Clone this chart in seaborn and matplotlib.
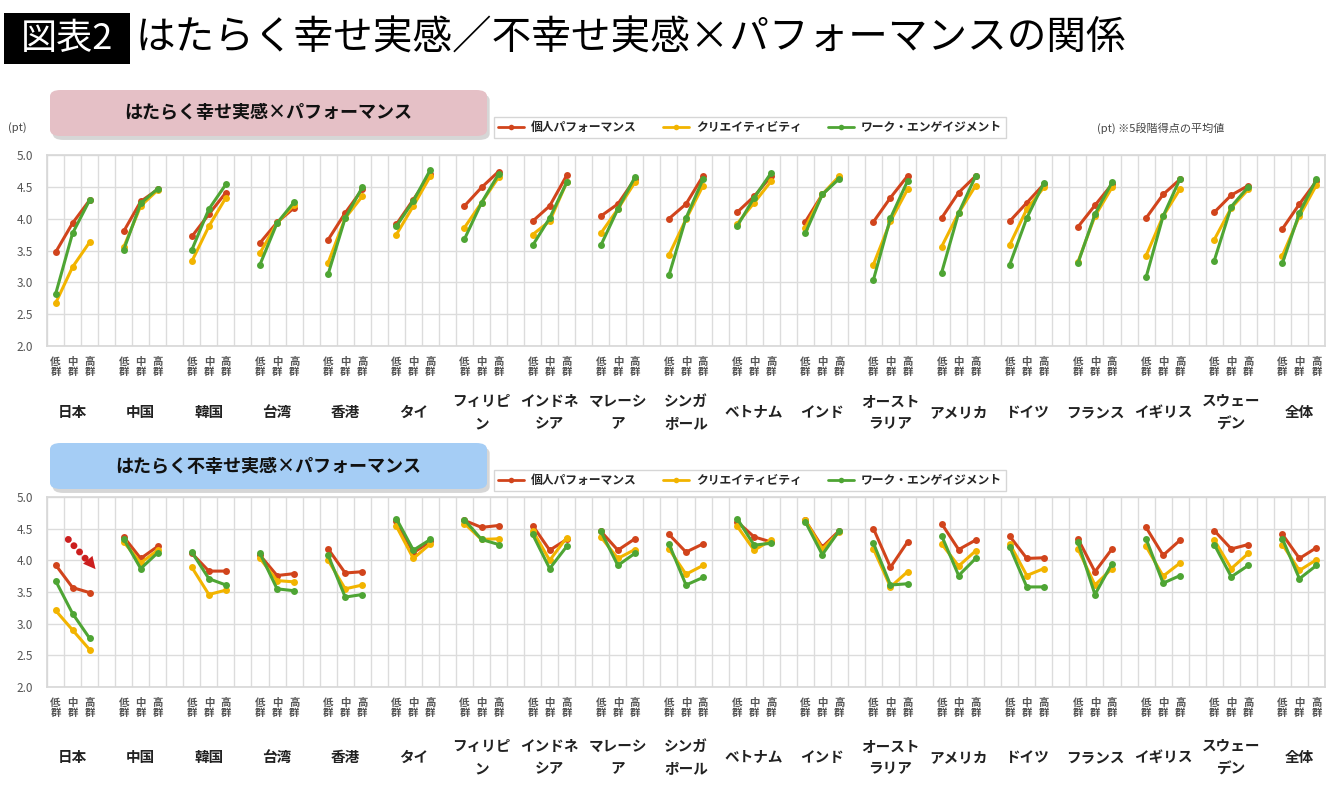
import numpy as np
import pandas as pd
import seaborn as sns
import matplotlib.pyplot as plt
from matplotlib.patches import FancyBboxPatch, Rectangle
from matplotlib.lines import Line2D

# Countries and groups
countries = ['日本', '中国', '韓国', '台湾', '香港', 'タイ', 'フィリピ\nン', 'インドネ\nシア',
             'マレーシ\nア', 'シンガ\nポール', 'ベトナム', 'インド', 'オースト\nラリア', 'アメリカ',
             'ドイツ', 'フランス', 'イギリス', 'スウェー\nデン', '全体']
groups = ['低\n群', '中\n群', '高\n群']
series_names = ['個人パフォーマンス', 'クリエイティビティ', 'ワーク・エンゲイジメント']

# はたらく幸せ実感 x パフォーマンス (low, mid, high)
happy_perf = [(3.47, 3.93, 4.29), (3.80, 4.27, 4.46), (3.72, 4.07, 4.41), (3.62, 3.94, 4.17),
              (3.67, 4.09, 4.46), (3.91, 4.30, 4.70), (4.20, 4.49, 4.74), (3.96, 4.20, 4.68),
              (4.04, 4.23, 4.62), (4.00, 4.23, 4.67), (4.10, 4.35, 4.67), (3.95, 4.38, 4.65),
              (3.95, 4.33, 4.67), (4.01, 4.41, 4.67), (3.96, 4.25, 4.54), (3.87, 4.21, 4.54),
              (4.01, 4.38, 4.62), (4.10, 4.37, 4.52), (3.84, 4.23, 4.59)]
happy_crea = [(2.67, 3.24, 3.63), (3.55, 4.20, 4.45), (3.33, 3.88, 4.33), (3.46, 3.93, 4.22),
              (3.31, 4.01, 4.35), (3.75, 4.20, 4.67), (3.86, 4.25, 4.65), (3.75, 3.96, 4.57),
              (3.77, 4.15, 4.57), (3.43, 3.99, 4.52), (3.92, 4.25, 4.59), (3.86, 4.38, 4.67),
              (3.28, 3.96, 4.46), (3.56, 4.09, 4.52), (3.59, 4.15, 4.49), (3.32, 4.04, 4.49),
              (3.42, 4.04, 4.47), (3.67, 4.17, 4.46), (3.42, 4.04, 4.53)]
happy_eng = [(2.81, 3.77, 4.29), (3.51, 4.24, 4.47), (3.51, 4.15, 4.54), (3.28, 3.93, 4.26),
             (3.13, 4.01, 4.49), (3.88, 4.28, 4.77), (3.68, 4.25, 4.70), (3.58, 4.01, 4.57),
             (3.58, 4.15, 4.65), (3.11, 4.01, 4.62), (3.88, 4.33, 4.72), (3.77, 4.38, 4.63),
             (3.04, 4.01, 4.59), (3.15, 4.09, 4.67), (3.28, 4.01, 4.56), (3.30, 4.07, 4.57),
             (3.08, 4.04, 4.63), (3.34, 4.19, 4.50), (3.30, 4.09, 4.62)]

# はたらく不幸せ実感 x パフォーマンス (low, mid, high)
unhappy_perf = [(3.93, 3.57, 3.49), (4.37, 4.03, 4.22), (4.11, 3.83, 3.83), (4.08, 3.76, 3.79),
                (4.18, 3.80, 3.82), (4.62, 4.12, 4.30), (4.63, 4.52, 4.55), (4.55, 4.16, 4.33),
                (4.46, 4.16, 4.34), (4.41, 4.13, 4.26), (4.61, 4.37, 4.29), (4.63, 4.21, 4.47),
                (4.50, 3.89, 4.29), (4.58, 4.17, 4.32), (4.38, 4.03, 4.04), (4.34, 3.82, 4.18),
                (4.52, 4.08, 4.32), (4.47, 4.18, 4.25), (4.41, 4.03, 4.20)]
unhappy_crea = [(3.21, 2.90, 2.59), (4.29, 3.96, 4.16), (3.89, 3.46, 3.53), (4.03, 3.68, 3.66),
                (4.00, 3.55, 3.61), (4.54, 4.03, 4.26), (4.58, 4.33, 4.34), (4.47, 4.00, 4.36),
                (4.37, 4.03, 4.17), (4.18, 3.78, 3.92), (4.54, 4.16, 4.32), (4.63, 4.18, 4.45),
                (4.18, 3.58, 3.82), (4.26, 3.91, 4.15), (4.26, 3.76, 3.87), (4.18, 3.61, 3.87),
                (4.22, 3.75, 3.96), (4.32, 3.87, 4.11), (4.25, 3.84, 4.01)]
unhappy_eng = [(3.68, 3.16, 2.77), (4.34, 3.87, 4.12), (4.13, 3.71, 3.61), (4.11, 3.55, 3.52),
               (4.08, 3.42, 3.46), (4.66, 4.16, 4.33), (4.64, 4.33, 4.25), (4.41, 3.87, 4.22),
               (4.46, 3.92, 4.11), (4.26, 3.61, 3.73), (4.66, 4.24, 4.27), (4.61, 4.09, 4.47),
               (4.27, 3.61, 3.63), (4.39, 3.76, 4.03), (4.21, 3.58, 3.58), (4.29, 3.46, 3.95),
               (4.34, 3.64, 3.76), (4.25, 3.74, 3.92), (4.34, 3.71, 3.92)]

colors = ['#d1441c', '#f2b400', '#4ea534']
palette = dict(zip(series_names, colors))


def build_frame(perf, crea, eng):
    rows = []
    for name, vals in zip(series_names, [perf, crea, eng]):
        for i, c in enumerate(countries):
            for j in range(3):
                rows.append({'country': c, 'pos': 4 * i + j, 'series': name, 'value': vals[i][j]})
    return pd.DataFrame(rows)


df_top = build_frame(happy_perf, happy_crea, happy_eng)
df_bot = build_frame(unhappy_perf, unhappy_crea, unhappy_eng)

sns.set_theme(style='white')
plt.rcParams['font.family'] = ['Noto Sans CJK JP', 'DejaVu Sans']

W, H = 1340, 790
fig = plt.figure(figsize=(W / 100, H / 100), dpi=100)


def fx(px):
    return px / W


def fy(py):
    return 1 - py / H


def draw_panel(df, top, bottom, header, header_color, hdr_top, country_y):
    ax = fig.add_axes([fx(47), fy(bottom), fx(1325) - fx(47), fy(top) - fy(bottom)])
    sns.lineplot(data=df, x='pos', y='value', hue='series', units='country', estimator=None,
                 palette=palette, marker='o', markersize=5, markeredgewidth=0, linewidth=2.2,
                 sort=False, legend=False, ax=ax)
    ax.set_xlim(-0.5, 74.5)
    ax.set_ylim(2.0, 5.0)
    ax.set_yticks(np.arange(2.0, 5.01, 0.5))
    ax.set_yticklabels([f'{v:.1f}' for v in np.arange(2.0, 5.01, 0.5)], fontsize=8.5, color='#555555')
    pos = [4 * i + j for i in range(len(countries)) for j in range(3)]
    ax.set_xticks(pos)
    ax.set_xticklabels(groups * len(countries), fontsize=7.5, color='#555555', linespacing=1.0,
                       fontweight='bold')
    ax.set_xticks(np.arange(-0.5, 75, 1), minor=True)
    ax.tick_params(axis='x', which='both', length=0, pad=8)
    ax.tick_params(axis='y', length=0, pad=10)
    ax.grid(which='minor', axis='x', color='#dcdcdc', linewidth=1)
    ax.grid(which='major', axis='y', color='#dcdcdc', linewidth=1)
    ax.grid(which='major', axis='x', visible=False)
    ax.set_xlabel('')
    ax.set_ylabel('')
    for s in ax.spines.values():
        s.set_color('#d8d8d8')
    for i, c in enumerate(countries):
        xf = ax.transData.transform((4 * i + 1, 0))[0] / W
        fig.text(xf, fy(country_y), c, ha='center', va='center', fontsize=10.5,
                 fontweight='bold', color='#222222', linespacing=1.5)

    # panel header box
    x0, x1 = fx(50), fx(487)
    y0, y1 = fy(hdr_top + 46), fy(hdr_top)
    shadow = FancyBboxPatch((x0 + 0.002, y0 - 0.005), x1 - x0, y1 - y0,
                            boxstyle='round,pad=0,rounding_size=0.008', transform=fig.transFigure,
                            facecolor='#bbbbbb', edgecolor='none', alpha=0.6)
    box = FancyBboxPatch((x0, y0), x1 - x0, y1 - y0, boxstyle='round,pad=0,rounding_size=0.008',
                         transform=fig.transFigure, facecolor=header_color, edgecolor='none')
    fig.add_artist(shadow)
    fig.add_artist(box)
    fig.text((x0 + x1) / 2, (y0 + y1) / 2, header, ha='center', va='center',
             fontsize=13, fontweight='bold', color='#111111')

    # legend
    handles = [Line2D([], [], color=col, marker='o', markersize=4, linewidth=2, markeredgewidth=0)
               for col in colors]
    lx0, lx1 = fx(494), fx(1006)
    ly0, ly1 = fy(hdr_top + 48), fy(hdr_top + 22)
    fig.legend(handles, series_names, loc='lower left', bbox_to_anchor=(lx0, ly0, lx1 - lx0, ly1 - ly0),
               mode='expand', ncol=3, frameon=True, edgecolor='#cccccc', fancybox=False,
               handlelength=2.2, handletextpad=0.6, borderaxespad=0, borderpad=0.35,
               prop={'weight': 'bold', 'size': 8.5})
    return ax


ax_top = draw_panel(df_top, 155, 346, 'はたらく幸せ実感×パフォーマンス', '#e5c0c6', 90, 412)
ax_bot = draw_panel(df_bot, 497, 687, 'はたらく不幸せ実感×パフォーマンス', '#a5cdf5', 443, 757)

# unit notes
fig.text(fx(8), fy(128), '(pt)', fontsize=8, color='#444444', va='center')
fig.text(fx(1097), fy(128), '(pt) ※5段階得点の平均値', fontsize=8, color='#444444', va='center')

# dotted arrow on Japan (unhappy panel)
ax_bot.plot([0.75, 1.95], [4.33, 3.97], linestyle=(0, (0.01, 1.2)), lw=5, color='#cc1f1f',
            dash_capstyle='round')
ax_bot.annotate('', xy=(2.35, 3.86), xytext=(1.95, 3.99),
                arrowprops=dict(arrowstyle='-|>', lw=0, color='#cc1f1f', mutation_scale=22,
                                shrinkA=0, shrinkB=0))

# figure title
fig.add_artist(Rectangle((fx(4), fy(64)), fx(130) - fx(4), fy(13) - fy(64),
                         transform=fig.transFigure, facecolor='black', edgecolor='none'))
fig.text(fx(67), fy(39), '図表2', ha='center', va='center', fontsize=26, color='white')
fig.text(fx(135), fy(39), 'はたらく幸せ実感／不幸せ実感×パフォーマンスの関係', ha='left', va='center',
         fontsize=28.5, color='black')

fig.savefig('out.png', dpi=100)
